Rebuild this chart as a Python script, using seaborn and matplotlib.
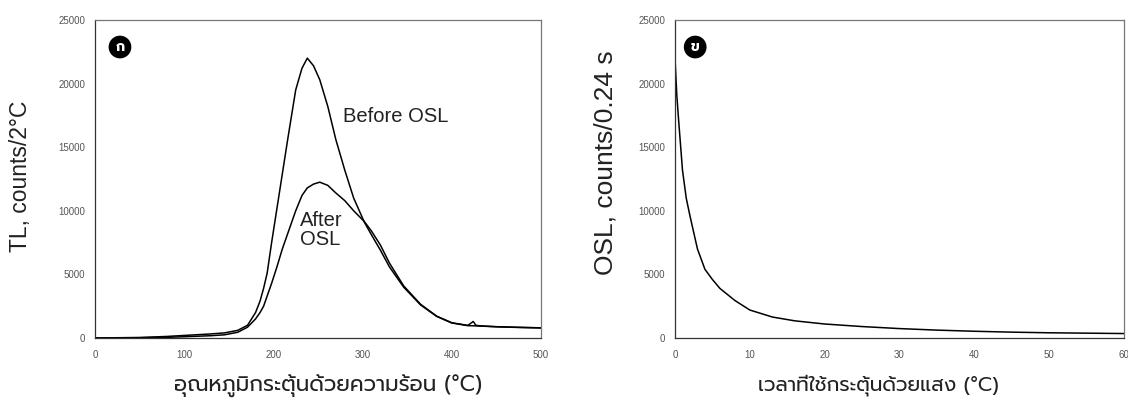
import matplotlib
matplotlib.use("Agg")
import matplotlib.pyplot as plt
import seaborn as sns
import pandas as pd

# ---- data ----
temperature_c = [0, 50, 80, 100, 130, 145, 160, 171, 180, 185, 189, 193, 198, 204, 210, 216,
                 225, 232, 238, 245, 252, 261, 270, 280, 290, 302, 310, 320, 330, 346, 365,
                 383, 400, 418, 424, 427, 432, 450, 475, 500]
tl_before_osl = [0, 40, 120, 200, 320, 400, 600, 1000, 2000, 2900, 3900, 5100, 7500, 10200,
                 12900, 15600, 19500, 21200, 22000, 21400, 20300, 18200, 15600, 13200, 11000,
                 9100, 8100, 6900, 5600, 4000, 2600, 1700, 1180, 970, 960, 950, 940, 880,
                 830, 790]
tl_after_osl = [0, 20, 50, 100, 180, 250, 450, 850, 1500, 2000, 2500, 3300, 4300, 5600, 7000,
                8200, 10000, 11200, 11800, 12100, 12250, 12000, 11400, 10800, 10000, 9150,
                8400, 7300, 5900, 4100, 2650, 1720, 1200, 990, 1300, 1000, 950, 890, 840, 800]

time_s = [0, 0.25, 0.5, 1, 1.5, 2, 2.5, 3, 4, 5, 6, 8, 10, 13, 16, 20, 25, 30, 35, 40,
          45, 50, 55, 60]
osl_counts = [22000, 19000, 17000, 13200, 11000, 9600, 8300, 7000, 5400, 4600, 3900, 2950,
              2200, 1650, 1350, 1100, 900, 740, 620, 530, 460, 410, 380, 350]

tl_xticks = [0, 100, 200, 300, 400, 500]
osl_xticks = [0, 10, 20, 30, 40, 50, 60]
yticks = [0, 5000, 10000, 15000, 20000, 25000]

tl_xlabel = "อุณหภูมิกระตุ้นด้วยความร้อน (°C)"
osl_xlabel = "เวลาที่ใช้กระตุ้นด้วยแสง (°C)"
tl_ylabel = "TL, counts/2°C"
osl_ylabel = "OSL, counts/0.24 s"
panel_labels = ["ก", "ข"]
curve_labels = ["Before OSL", "After\nOSL"]

# ---- style ----
sns.set_style("white")
plt.rcParams["font.family"] = ["Liberation Sans", "DejaVu Sans"]
THAI = ["Prompt", "Kanit", "Noto Sans Thai", "DejaVu Sans"]

fig = plt.figure(figsize=(11.28, 4.03), dpi=100)
ax1 = fig.add_axes([95 / 1128, 1 - 338 / 403, 446 / 1128, 318 / 403])
ax2 = fig.add_axes([675 / 1128, 1 - 338 / 403, 449 / 1128, 318 / 403])

df_tl = pd.DataFrame({"T": temperature_c, "before": tl_before_osl, "after": tl_after_osl})
df_osl = pd.DataFrame({"t": time_s, "osl": osl_counts})

line_kw = dict(color="black", linewidth=1.1)
sns.lineplot(data=df_tl, x="T", y="before", ax=ax1, **line_kw)
sns.lineplot(data=df_tl, x="T", y="after", ax=ax1, **line_kw)
sns.lineplot(data=df_osl, x="t", y="osl", ax=ax2, **line_kw)

settings = [
    (ax1, tl_xticks, (0, 500), tl_xlabel, 15.5, (0.522, -0.115), tl_ylabel, 16.5,
     (-0.141, 0.51), panel_labels[0], 0.056),
    (ax2, osl_xticks, (0, 60), osl_xlabel, 14.5, (0.454, -0.115), osl_ylabel, 19,
     (-0.129, 0.55), panel_labels[1], 0.045),
]
for ax, xt, xl, xlabel, xfs, xpos, ylabel, yfs, ypos, pl, plx in settings:
    ax.set_xlim(*xl)
    ax.set_ylim(0, 25000)
    ax.set_xticks(xt)
    ax.set_yticks(yticks)
    ax.set_xticklabels([str(v) for v in xt])
    ax.set_yticklabels([str(v) for v in yticks])
    ax.tick_params(axis="both", direction="out", length=3, width=0.8, colors="#444444",
                   labelsize=7, labelcolor="#555555", pad=4)
    ax.tick_params(axis="x", pad=6)
    for s in ax.spines.values():
        s.set_visible(True)
        s.set_color("#777777")
        s.set_linewidth(0.9)
    ax.spines["bottom"].set_color("#333333")
    ax.spines["left"].set_color("#333333")
    ax.set_xlabel(xlabel, family=THAI, fontsize=xfs, color="#222222")
    ax.xaxis.set_label_coords(*xpos)
    ax.set_ylabel(ylabel, fontsize=yfs, color="#222222")
    ax.yaxis.set_label_coords(*ypos)
    ax.text(plx, 0.915, pl, transform=ax.transAxes,
            ha="center", va="center", color="white", fontsize=10, fontweight="bold",
            family=THAI,
            bbox=dict(boxstyle="circle,pad=0.3", fc="black", ec="black"))

ax1.text(278, 17400, curve_labels[0], fontsize=14.5, color="#222222", va="center", ha="left")
ax1.text(230, 8500, curve_labels[1], fontsize=14.5, color="#222222", va="center", ha="left",
         linespacing=1.0)

fig.savefig("out.png", dpi=100, facecolor="white")
